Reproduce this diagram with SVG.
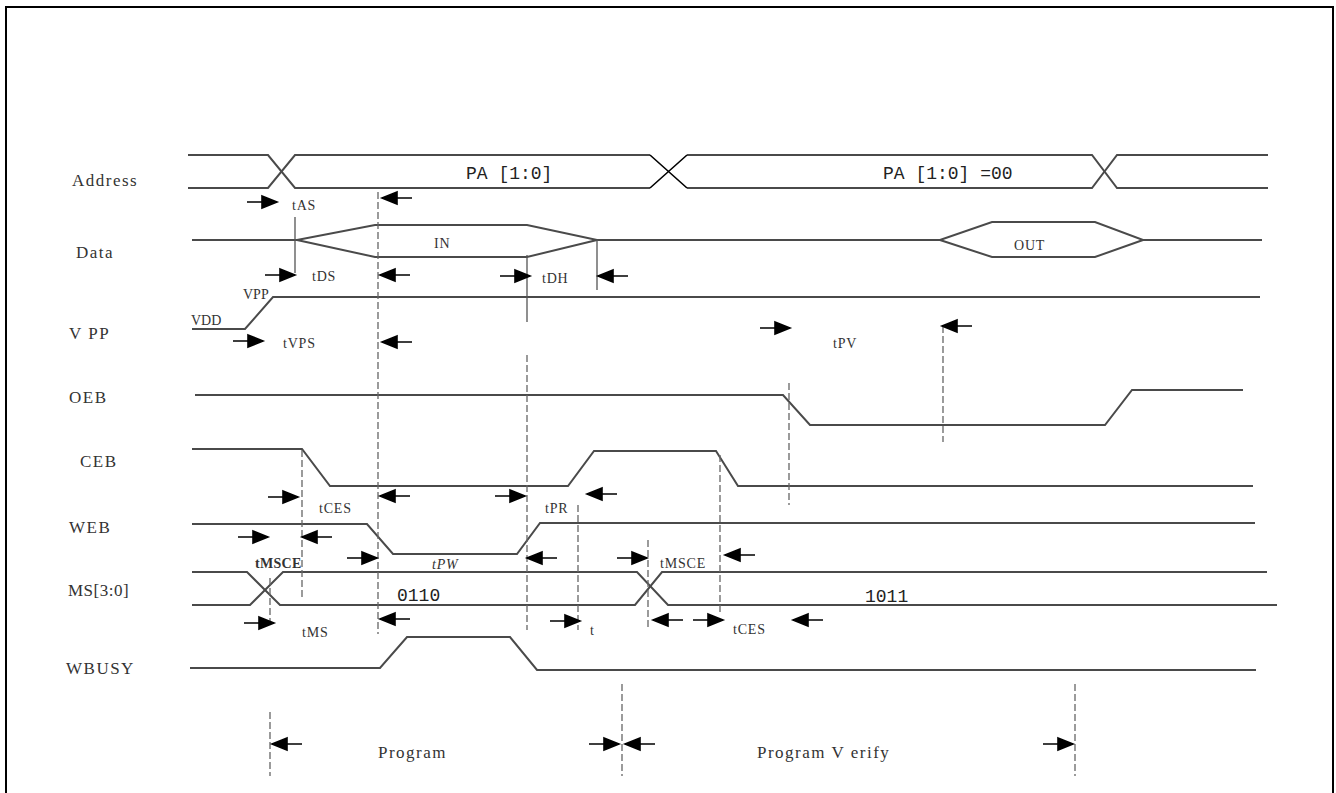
<svg xmlns="http://www.w3.org/2000/svg" width="1336" height="793" viewBox="0 0 1336 793">
<defs>
<style>
.sig{fill:none;stroke:#4a4a4a;stroke-width:2;stroke-linejoin:miter}
.blk{fill:none;stroke:#000;stroke-width:1.6}
.dl{fill:none;stroke:#666;stroke-width:1.3;stroke-dasharray:7 3}
.sl{fill:none;stroke:#555;stroke-width:1.3}
.lab{font-family:"Liberation Serif","Times New Roman",serif;font-size:17px;fill:#333;letter-spacing:1.5px}
.tl{font-family:"Liberation Serif","Times New Roman",serif;font-size:14px;fill:#333;letter-spacing:0.8px}
.ph{font-family:"Liberation Serif","Times New Roman",serif;font-size:17px;fill:#333;letter-spacing:1.5px}
.vv{font-family:"Liberation Serif","Times New Roman",serif;font-size:14px;fill:#333}
.mono{font-family:"Liberation Mono","Courier New",monospace;font-size:18px;fill:#222}
.arw{fill:#000;stroke:#000;stroke-width:1.6}
</style>
<path id="ar" class="arw" d="M-30,0 H-14 M-15,-6 L0,0 L-15,6 Z"/>
<path id="al" class="arw" d="M30,0 H14 M15,-6 L0,0 L15,6 Z"/>
</defs>
<rect x="0" y="0" width="1336" height="793" fill="#fff"/>
<rect x="6" y="7" width="1327" height="800" fill="none" stroke="#000" stroke-width="2"/>

<g id="address">
<text class="lab" x="72" y="186">Address</text>
<path class="sig" d="M188,155 H268 L295,188 H650 M687,188 H1092 L1117,155 H1268"/>
<path class="sig" d="M188,188 H268 L295,155 H650 M687,155 H1092 L1117,188 H1268"/>
<path class="blk" d="M650,155 L687,188 M650,188 L687,155"/>
<text class="mono" x="466" y="179">PA [1:0]</text>
<text class="mono" x="883" y="179">PA [1:0] =00</text>
</g>

<g id="data">
<text class="lab" x="76" y="258">Data</text>
<path class="sig" d="M192,240 H297 L375,225 H527 L597,240 H940 L992,222 H1095 L1143,240 H1262"/>
<path class="sig" d="M297,240 L375,257 H527 L597,240 M940,240 L992,257 H1095 L1143,240"/>
<text class="tl" x="434" y="248">IN</text>
<text class="tl" x="1014" y="250">OUT</text>
</g>

<g id="vpp">
<text class="lab" x="69" y="339">V PP</text>
<path class="sig" d="M192,329 H245 L273,297 H1260"/>
<text class="vv" x="191" y="325">VDD</text>
<text class="vv" x="243" y="299">VPP</text>
</g>

<g id="oeb">
<text class="lab" x="69" y="403">OEB</text>
<path class="sig" d="M195,395 H783 L810,425 H1105 L1132,390 H1243"/>
</g>

<g id="ceb">
<text class="lab" x="80" y="467">CEB</text>
<path class="sig" d="M192,449 H302 L330,486 H568 L594,451 H716 L738,486 H1253"/>
</g>

<g id="web">
<text class="lab" x="69" y="533">WEB</text>
<path class="sig" d="M192,524 H367 L393,554 H517 L540,523 H1255"/>
</g>

<g id="ms">
<text class="lab" x="68" y="596" style="letter-spacing:0.5px">MS[3:0]</text>
<path class="sig" d="M192,572 H247 L280,605 H635 L662,572 H1267"/>
<path class="sig" d="M192,605 H250 L283,572 H637 L668,605 H1277"/>
<text class="mono" x="397" y="601">0110</text>
<text class="mono" x="865" y="602">1011</text>
</g>

<g id="wbusy">
<text class="lab" x="66" y="674">WBUSY</text>
<path class="sig" d="M190,668 H380 L407,637 H510 L537,670 H1256"/>
</g>

<g id="phases">
<text class="ph" x="378" y="758">Program</text>
<text class="ph" x="757" y="758">Program V erify</text>
</g>

<g id="connectors">
<path class="sl" d="M295,217 V273 M527,255 V322 M597,240 V290"/>
<path class="dl" d="M378,192 V634 M527,355 V630 M302,450 V598 M270,578 V628 M578,505 V630 M648,540 V630 M720,455 V613 M789,383 V505 M943,326 V442"/>
<path class="dl" d="M270,712 V776 M622,684 V776 M1075,684 V776"/>

<use href="#ar" x="277" y="202"/><use href="#al" x="382" y="198"/>
<text class="tl" x="292" y="210">tAS</text>
<use href="#ar" x="295" y="275"/><use href="#al" x="380" y="275"/>
<text class="tl" x="312" y="281">tDS</text>
<use href="#ar" x="530" y="276"/><use href="#al" x="598" y="276"/>
<text class="tl" x="542" y="283">tDH</text>
<use href="#ar" x="263" y="341"/><use href="#al" x="382" y="342"/>
<text class="tl" x="283" y="348">tVPS</text>
<use href="#ar" x="790" y="328"/><use href="#al" x="942" y="326"/>
<text class="tl" x="833" y="348">tPV</text>
<use href="#ar" x="298" y="497"/><use href="#al" x="380" y="496"/>
<text class="tl" x="319" y="513">tCES</text>
<use href="#ar" x="525" y="496"/><use href="#al" x="587" y="494"/>
<text class="tl" x="545" y="513">tPR</text>
<use href="#ar" x="268" y="537"/><use href="#al" x="302" y="537"/>
<text class="tl" x="255" y="568" style="font-weight:bold;letter-spacing:0.3px">tMSCE</text>
<use href="#ar" x="377" y="558"/><use href="#al" x="527" y="558"/>
<text class="tl" x="432" y="569" style="font-style:italic">tPW</text>
<use href="#ar" x="647" y="558"/><use href="#al" x="725" y="555"/>
<text class="tl" x="660" y="568">tMSCE</text>
<use href="#ar" x="274" y="623"/><use href="#al" x="380" y="619"/>
<text class="tl" x="302" y="637">tMS</text>
<use href="#ar" x="580" y="621"/><use href="#al" x="653" y="620"/>
<text class="tl" x="590" y="635">t</text>
<rect x="595" y="622" width="52" height="16" fill="#fff"/>
<use href="#ar" x="723" y="620"/><use href="#al" x="793" y="620"/>
<text class="tl" x="733" y="634">tCES</text>
<use href="#al" x="272" y="744"/>
<use href="#ar" x="619" y="744"/><use href="#al" x="625" y="744"/>
<use href="#ar" x="1073" y="744"/>
</g>
</svg>
